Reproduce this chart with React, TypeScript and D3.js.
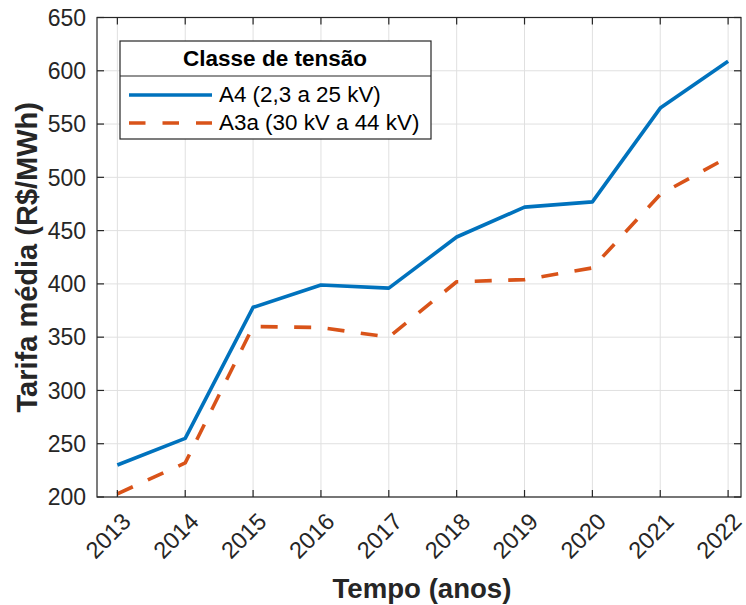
import React from "react";
import * as d3 from "d3";

// Average tariff per voltage class, 2013–2022
const years = [2013, 2014, 2015, 2016, 2017, 2018, 2019, 2020, 2021, 2022];
const a4Values = [230, 255, 378, 399, 396, 444, 472, 477, 565, 609];
const a3aValues = [203, 232, 360, 359, 350, 402, 404, 415, 484, 519];
const yTicks = [200, 250, 300, 350, 400, 450, 500, 550, 600, 650];

const seriesNames = ["A4 (2,3 a 25 kV)", "A3a (30 kV a 44 kV)"];
const legendTitle = "Classe de tensão";
const xLabel = "Tempo (anos)";
const yLabel = "Tarifa média (R$/MWh)";

const W = 746;
const H = 605;
const M = { left: 97, right: 741, top: 17.5, bottom: 497 };

const BLUE = "#0072BD";
const ORANGE = "#D95319";
const AXIS = "#262626";
const GRID = "#e0e0e0";
const FONT = "'Liberation Sans', Arial, Helvetica, sans-serif";

export default function App() {
  const x = d3.scaleLinear().domain([2012.7, 2022.19]).range([M.left, M.right]);
  const y = d3.scaleLinear().domain([200, 650]).range([M.bottom, M.top]);

  const line = d3
    .line<number>()
    .x((_, i) => x(years[i]))
    .y((v) => y(v));

  const tickLen = 7;

  return (
    <svg
      width={W}
      height={H}
      style={{ position: "absolute", left: 0, top: 0, background: "#fff" }}
      fontFamily={FONT}
    >
      <rect x={0} y={0} width={W} height={H} fill="#fff" />
      {/* grid */}
      <g stroke={GRID} strokeWidth={1}>
        {years.map((yr) => (
          <line key={"gx" + yr} x1={x(yr)} x2={x(yr)} y1={M.top} y2={M.bottom} />
        ))}
        {yTicks.map((t) => (
          <line key={"gy" + t} x1={M.left} x2={M.right} y1={y(t)} y2={y(t)} />
        ))}
      </g>

      {/* series */}
      <path d={line(a4Values) || ""} fill="none" stroke={BLUE} strokeWidth={3.6} strokeLinejoin="round" />
      <path
        d={line(a3aValues) || ""}
        fill="none"
        stroke={ORANGE}
        strokeWidth={3.6}
        strokeDasharray="17,16.5"
        strokeLinejoin="round"
      />

      {/* axes box and ticks */}
      <rect
        x={M.left}
        y={M.top}
        width={M.right - M.left}
        height={M.bottom - M.top}
        fill="none"
        stroke={AXIS}
        strokeWidth={1.2}
      />
      <g stroke={AXIS} strokeWidth={1.2}>
        {years.map((yr) => (
          <g key={"tx" + yr}>
            <line x1={x(yr)} x2={x(yr)} y1={M.bottom} y2={M.bottom - tickLen} />
            <line x1={x(yr)} x2={x(yr)} y1={M.top} y2={M.top + tickLen} />
          </g>
        ))}
        {yTicks.map((t) => (
          <g key={"ty" + t}>
            <line x1={M.left} x2={M.left + tickLen} y1={y(t)} y2={y(t)} />
            <line x1={M.right} x2={M.right - tickLen} y1={y(t)} y2={y(t)} />
          </g>
        ))}
      </g>

      {/* tick labels */}
      <g fill={AXIS}>
        {yTicks.map((t) => (
          <text key={"ly" + t} x={M.left - 11} y={y(t)} dy="0.36em" textAnchor="end" fontSize={23}>
            {t}
          </text>
        ))}
        {years.map((yr) => (
          <text
            key={"lx" + yr}
            textAnchor="end"
            fontSize={23.5}
            transform={`translate(${x(yr) + 15},${M.bottom + 26}) rotate(-45)`}
          >
            {yr}
          </text>
        ))}
      </g>

      {/* axis labels */}
      <text x={422} y={598} textAnchor="middle" fontSize={27.6} fontWeight="bold" fill={AXIS}>
        {xLabel}
      </text>
      <text
        transform={`translate(37,${(M.top + M.bottom) / 2}) rotate(-90)`}
        textAnchor="middle"
        fontSize={29}
        fontWeight="bold"
        fill={AXIS}
      >
        {yLabel}
      </text>

      {/* legend */}
      <g>
        <rect x={120} y={41} width={311} height={98} fill="#fff" stroke={AXIS} strokeWidth={1.2} />
        <line x1={120} x2={431} y1={76} y2={76} stroke={AXIS} strokeWidth={1.2} />
        <text x={275} y={65.5} textAnchor="middle" fontSize={22.5} fontWeight="bold" fill="#000">
          {legendTitle}
        </text>
        <line x1={129} x2={212} y1={95} y2={95} stroke={BLUE} strokeWidth={3.6} />
        <line x1={129} x2={212} y1={123} y2={123} stroke={ORANGE} strokeWidth={3.6} strokeDasharray="16.5,17" />
        <text x={219} y={102} fontSize={22.4} fill="#000">
          {seriesNames[0]}
        </text>
        <text x={219} y={130} fontSize={22.4} fill="#000">
          {seriesNames[1]}
        </text>
      </g>
    </svg>
  );
}
